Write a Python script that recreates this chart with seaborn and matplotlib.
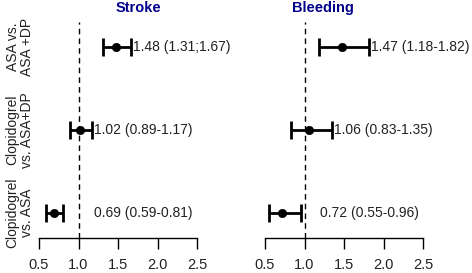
import matplotlib
matplotlib.use("Agg")
import matplotlib.pyplot as plt
import seaborn as sns
import pandas as pd

comparisons = ["ASA vs.\nASA +DP", "Clopidogrel\nvs. ASA+DP", "Clopidogrel\nvs. ASA"]
ypos = [3, 2, 1]

stroke_est = [1.48, 1.02, 0.69]
stroke_lo = [1.31, 0.89, 0.59]
stroke_hi = [1.67, 1.17, 0.81]
stroke_txt = ["1.48 (1.31;1.67)", "1.02 (0.89-1.17)", "0.69 (0.59-0.81)"]

bleed_est = [1.47, 1.06, 0.72]
bleed_lo = [1.18, 0.83, 0.55]
bleed_hi = [1.82, 1.35, 0.96]
bleed_txt = ["1.47 (1.18-1.82)", "1.06 (0.83-1.35)", "0.72 (0.55-0.96)"]

xticks = [0.5, 1.0, 1.5, 2.0, 2.5]
xticklabels = ["0.5", "1.0", "1.5", "2.0", "2.5"]

sns.set_theme(style="white")
plt.rcParams["font.family"] = ["Liberation Sans", "DejaVu Sans"]

fig = plt.figure(figsize=(4.72, 2.73), dpi=100)
ax1 = fig.add_axes([39/472, 1-238/273, 158/472, 216/273])
ax2 = fig.add_axes([265/472, 1-238/273, 158/472, 216/273])

panels = [
    (ax1, "Stroke", stroke_est, stroke_lo, stroke_hi, stroke_txt, 138/472),
    (ax2, "Bleeding", bleed_est, bleed_lo, bleed_hi, bleed_txt, 323/472),
]

for ax, title, est, lo, hi, txt, tx in panels:
    df = pd.DataFrame({"est": est, "lo": lo, "hi": hi, "y": ypos, "txt": txt})
    ax.axvline(1.0, color="black", linestyle=(0, (4, 3)), linewidth=1.0, zorder=1)
    ax.errorbar(df["est"], df["y"],
                xerr=[df["est"] - df["lo"], df["hi"] - df["est"]],
                fmt="none", ecolor="black", elinewidth=2.0, capsize=6.5,
                capthick=2.0, zorder=2)
    sns.scatterplot(data=df, x="est", y="y", ax=ax, color="black", s=36,
                    edgecolor="black", zorder=3, legend=False)
    for _, r in df.iterrows():
        ax.text(max(r["hi"], 1.17) + 0.025, r["y"], r["txt"], ha="left",
                va="center", fontsize=10, color="#222222", clip_on=False)
    ax.set_xlim(0.5, 2.5)
    ax.set_ylim(0.7, 3.3)
    ax.set_xticks(xticks)
    ax.set_xticklabels(xticklabels, fontsize=10.5, color="#222222")
    ax.set_xlabel("")
    ax.set_ylabel("")
    for s in ["top", "right", "left"]:
        ax.spines[s].set_visible(False)
    ax.spines["bottom"].set_color("black")
    ax.spines["bottom"].set_linewidth(1.0)
    ax.tick_params(axis="x", direction="out", length=8, width=1.0,
                   color="black", bottom=True, pad=6.5)
    ax.tick_params(axis="y", left=False, length=0)
    ax.set_facecolor("none")
    fig.text(tx, 1 - 8/273, title, ha="center", va="center", fontsize=10.5,
             fontweight="bold", color="#00008B")

ax1.set_yticks(ypos)
ax1.set_yticklabels(comparisons, rotation=90, va="center", ha="center",
                    fontsize=10, color="#222222", linespacing=1.0)
ax1.tick_params(axis="y", pad=14)
ax2.set_yticks([])

fig.savefig("out.png", dpi=100)
